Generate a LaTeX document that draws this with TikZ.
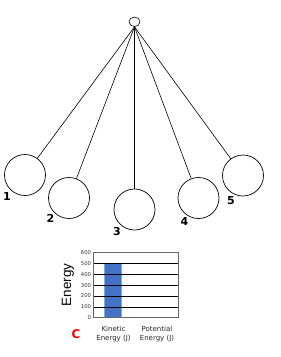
\documentclass[tikz,border=0pt]{standalone}
\usepackage{fontspec}
\setmainfont{DejaVu Sans}
\newfontfamily\arialf{Liberation Sans}
\usetikzlibrary{shapes.geometric}
\definecolor{barblue}{HTML}{4472C4}
\definecolor{baredge}{HTML}{7FAEE0}
\begin{document}
\begin{tikzpicture}[x=1pt,y=-1pt,
  bob/.style={circle,draw=black,line width=0.7pt,minimum size=41pt,inner sep=0pt},
  stringline/.style={draw=black,line width=0.6pt},
  numlbl/.style={font=\bfseries\fontsize{11}{11}\selectfont,inner sep=0pt},
  ticklbl/.style={font=\fontsize{5.3}{5.3}\selectfont,anchor=east,inner sep=0pt,text=black!80},
  catlbl/.style={font=\fontsize{7}{9}\selectfont,align=center,inner sep=0pt,text=black!85},
  grid line/.style={draw=black,line width=0.5pt}]
\useasboundingbox (0,0) rectangle (281,357);
% pivot
\node[ellipse,draw=black,line width=0.6pt,minimum width=11pt,minimum height=9.5pt,inner sep=0pt] (pivot) at (134.5,21.8) {};
% bobs
\node[bob] (b1) at (25,175) {};
\node[bob] (b2) at (69,198) {};
\node[bob] (b3) at (134.5,209.5) {};
\node[bob] (b4) at (198.5,198) {};
\node[bob] (b5) at (243,175.5) {};
\foreach \i in {1,...,5} {\draw[stringline] (pivot.south) -- (b\i);}
% labels
\node[numlbl] (l1) at (7,196) {1};
\node[numlbl] (l2) at (50.5,218.5) {2};
\node[numlbl] (l3) at (117,231) {3};
\node[numlbl] (l4) at (184.5,221) {4};
\node[numlbl] (l5) at (231,200.5) {5};
% chart
\fill[barblue] (104.5,263.5) rectangle (121.5,317.7);
\draw[baredge,line width=0.6pt] (104.5,317.7) -- (104.5,263.5) (121.5,263.5) -- (121.5,317.7);
\foreach \k in {0,...,5} {
  \draw[grid line] (93.3,{317.7-\k*10.833}) -- (178.3,{317.7-\k*10.833});
}
\draw[black!60,line width=0.5pt] (93.3,252.7) rectangle (178.3,317.7);
\foreach \k in {0,100,...,600} {
  \node[ticklbl] (t\k) at (91.3,{317.7-\k*0.10833}) {\k};
}
\node[font=\arialf\fontsize{13.5}{13.5}\selectfont,rotate=90,inner sep=0pt] (ylab) at (68,285) {Energy};
\node[catlbl] (k) at (113.5,334.5) {Kinetic\\Energy (J)};
\node[catlbl] (p) at (157,334.5) {Potential\\Energy (J)};
\node[font=\bfseries\fontsize{12}{12}\selectfont,text=red,inner sep=0pt] (C) at (76,334) {C};
\end{tikzpicture}
\end{document}
